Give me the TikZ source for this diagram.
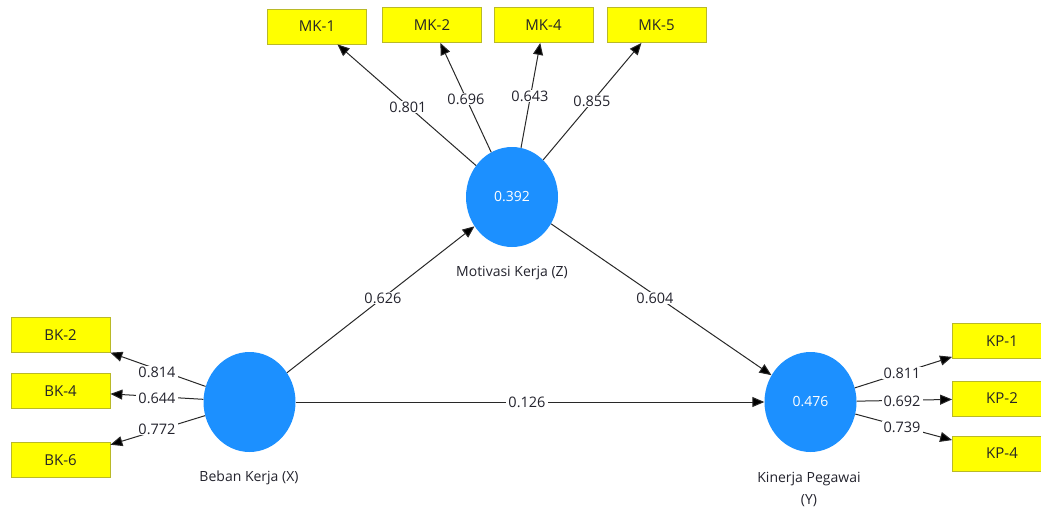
\documentclass[tikz,border=0pt]{standalone}
\usepackage{fontspec}
\setmainfont{Open Sans}
\usetikzlibrary{shapes.geometric,arrows.meta}
\definecolor{lvblue}{RGB}{28,144,255}
\definecolor{mvyellow}{RGB}{255,255,0}
\definecolor{mvborder}{RGB}{185,185,40}
\definecolor{edgegray}{RGB}{40,40,40}
\definecolor{txtgray}{RGB}{35,35,45}
\tikzset{
  latent/.style={ellipse, fill=lvblue, draw=none, minimum width=92pt, minimum height=100pt, inner sep=0pt, text=white, font=\fontsize{14}{16}\selectfont},
  manifest/.style={rectangle, fill=mvyellow, draw=mvborder, line width=0.8pt, minimum width=99pt, minimum height=35pt, inner sep=0pt, text=black!85, font=\fontsize{15}{17}\selectfont},
  arr/.style={draw=edgegray, line width=1pt, -{Triangle[length=12pt,width=10pt,fill=black]}},
  lbl/.style={fill=white, inner xsep=2pt, inner ysep=1pt, text=txtgray, font=\fontsize{14.5}{16}\selectfont},
  lvname/.style={text=txtgray, font=\fontsize{14}{16}\selectfont, align=center},
}
\begin{document}
\begin{tikzpicture}[x=1pt,y=-1pt]
\useasboundingbox (0,0) rectangle (1041,511);
% latent variables
\node[latent] (Z) at (512,197) {0.392};
\node[latent] (X) at (249.5,402) {};
\node[latent] (Y) at (810.5,402) {0.476};
% indicators
\node[manifest] (MK1) at (317,26.5) {MK-1};
\node[manifest] (MK2) at (432,25) {MK-2};
\node[manifest] (MK4) at (543.5,25) {MK-4};
\node[manifest] (MK5) at (656.5,25) {MK-5};
\node[manifest] (BK2) at (60.5,335) {BK-2};
\node[manifest] (BK4) at (60.5,391) {BK-4};
\node[manifest] (BK6) at (60.5,460) {BK-6};
\node[manifest] (KP1) at (1002,341) {KP-1};
\node[manifest] (KP2) at (1002,398.5) {KP-2};
\node[manifest] (KP4) at (1002,453.5) {KP-4};
% names
\node[lvname] (nZ) at (512,273) {Motivasi Kerja (Z)};
\node[lvname] (nX) at (249,478) {Beban Kerja (X)};
\node[lvname, font=\fontsize{14}{22}\selectfont] (nY) at (809,489) {Kinerja Pegawai\\(Y)};
% edges
\draw[arr] (Z) -- (MK1);
\draw[arr] (Z) -- (MK2);
\draw[arr] (Z) -- (MK4);
\draw[arr] (Z) -- (MK5);
\draw[arr] (X) -- (BK2);
\draw[arr] (X) -- (BK4);
\draw[arr] (X) -- (BK6);
\draw[arr] (Y) -- (KP1);
\draw[arr] (Y) -- (KP2);
\draw[arr] (Y) -- (KP4);
\draw[arr] (X) -- (Z);
\draw[arr] (Z) -- (Y);
\draw[arr] (X) -- (Y);
% loadings / path coefficients
\node[lbl] (l1) at (408,107) {0.801};
\node[lbl] (l2) at (466,99) {0.696};
\node[lbl] (l3) at (530,96) {0.643};
\node[lbl] (l4) at (592,101) {0.855};
\node[lbl] (l5) at (383,298) {0.626};
\node[lbl] (l6) at (655,298) {0.604};
\node[lbl] (l7) at (527,402) {0.126};
\node[lbl] (l8) at (157,372) {0.814};
\node[lbl] (l9) at (157,398) {0.644};
\node[lbl] (l10) at (157,429) {0.772};
\node[lbl] (l11) at (902,373) {0.811};
\node[lbl] (l12) at (902,401) {0.692};
\node[lbl] (l13) at (902,427) {0.739};
\end{tikzpicture}
\end{document}
